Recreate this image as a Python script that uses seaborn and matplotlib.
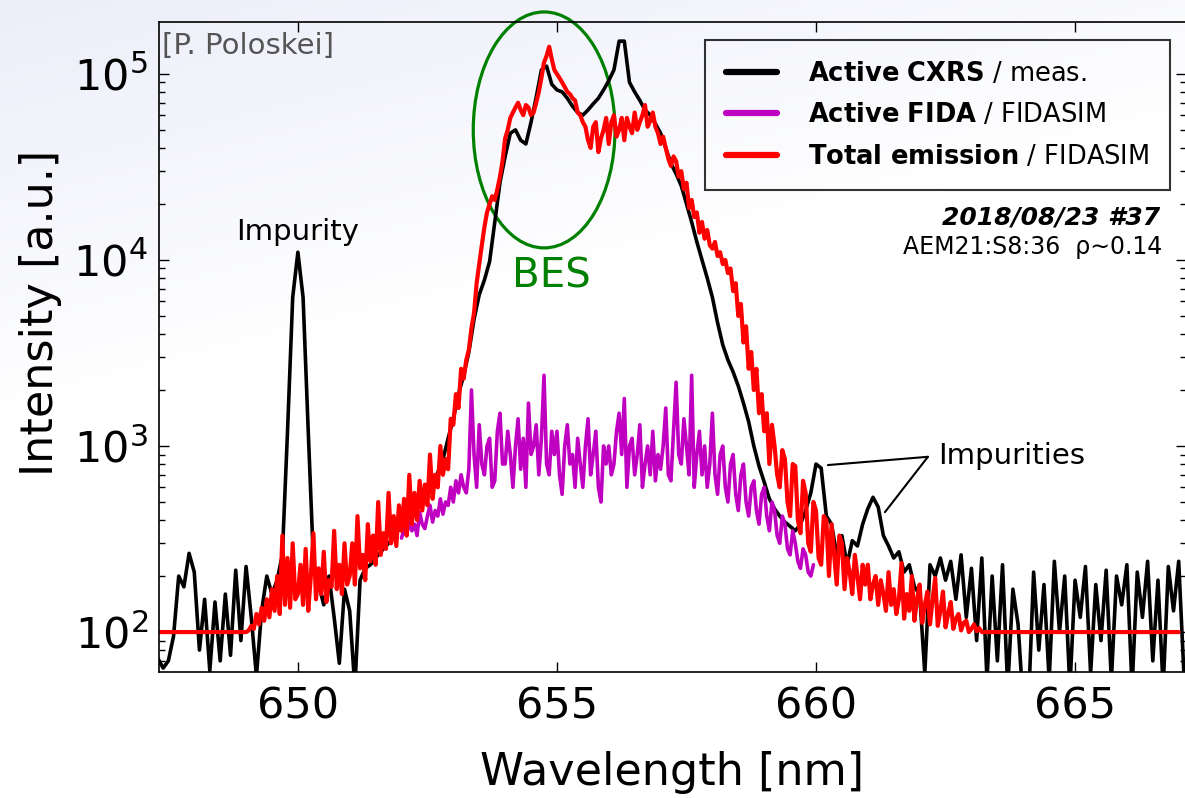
import numpy as np
import matplotlib
matplotlib.use("Agg")
import matplotlib.pyplot as plt
from matplotlib.patches import Ellipse
from matplotlib.lines import Line2D
import seaborn as sns

# spectra
# measured CXRS spectrum, one value every 0.1 nm
meas_start, meas_step = 647.3, 0.1
meas = [
    72, 64, 70, 95, 200, 175, 265,                                      # 647.3
    210, 80, 150, 62, 145, 70, 160, 75, 215, 90,                        # 648.0
    225, 120, 58, 130, 200, 160, 190, 260, 1200, 6300,                  # 649.0
    11000, 6300, 1200, 240, 180, 140, 200, 120, 68, 170,                # 650.0
    130, 50, 190, 220, 230, 250, 270, 290, 310, 340,                    # 651.0
    370, 400, 440, 480, 520, 570, 630, 720, 850, 1100,                  # 652.0
    1400, 1900, 2400, 3200, 4800, 6500, 7800, 9800, 16000, 26000,       # 653.0
    36000, 48000, 50000, 44000, 42000, 55000, 75000, 105000, 110000, 88000,   # 654.0
    82000, 80000, 74000, 67000, 62000, 60000, 64000, 69000, 74000, 82000,     # 655.0
    92000, 105000, 150000, 150000, 90000, 80000, 72000, 64000, 60000, 54000,  # 656.0
    48000, 40000, 33000, 29000, 25000, 20000, 16000, 12500, 10000, 8000,      # 657.0
    6300, 4600, 3500, 2900, 2500, 2100, 1700, 1350, 1000, 780,          # 658.0
    640, 520, 460, 420, 390, 370, 350, 380, 450, 560,                   # 659.0
    800, 760, 420, 380, 260, 330, 230, 310, 290, 380,                   # 660.0
    460, 530, 470, 330, 290, 250, 270, 210, 230, 175,                   # 661.0
    160, 60, 230, 200, 250, 190, 240, 150, 260, 120,                    # 662.0
    220, 90, 250, 55, 200, 70, 230, 50, 170, 110,                       # 663.0
    40, 40, 210, 80, 180, 55, 240, 100, 200, 50,                        # 664.0
    190, 120, 225, 60, 180, 90, 215, 55, 200, 140,                      # 665.0
    230, 50, 210, 120, 240, 70, 190, 50, 225, 130,                      # 666.0
    240, 60,                                                            # 667.0
]

# total emission (FIDASIM): flat floor outside 649.0-663.3 nm, 0.05 nm inside
total_floor = 100
total_edges = (647.3, 667.0)
total_start, total_step = 649.0, 0.05
total = [
    100, 102, 108, 104, 125, 110, 135, 115, 150, 120,
    170, 130, 200, 125, 330, 140, 250, 135, 300, 150,                   # 649.0
    160, 230, 140, 280, 130, 200, 340, 150, 220, 160,
    270, 145, 190, 175, 350, 170, 230, 160, 300, 180,                   # 650.0
    200, 300, 180, 420, 220, 260, 190, 380, 240, 330,
    230, 500, 260, 340, 280, 560, 300, 420, 290, 480,                   # 651.0
    350, 520, 330, 700, 380, 560, 400, 650, 450, 620,
    480, 900, 520, 700, 600, 1000, 700, 850, 750, 1400,                 # 652.0
    1300, 1900, 1600, 2600, 2300, 2900, 3300, 4300, 5200, 7500,
    9500, 12000, 15000, 18000, 20000, 22000, 21000, 24000, 28000, 34000,      # 653.0
    45000, 50000, 58000, 62000, 66000, 70000, 64000, 60000, 68000, 66000,
    60000, 62000, 70000, 80000, 95000, 115000, 125000, 140000, 120000, 105000,  # 654.0
    100000, 95000, 90000, 85000, 80000, 78000, 74000, 72000, 62000, 60000,
    55000, 52000, 44000, 40000, 52000, 55000, 38000, 45000, 50000, 58000,     # 655.0
    42000, 55000, 60000, 46000, 50000, 58000, 44000, 58000, 52000, 48000,
    62000, 50000, 55000, 60000, 68000, 52000, 56000, 62000, 52000, 48000,     # 656.0
    42000, 46000, 40000, 35000, 32000, 36000, 34000, 28000, 30000, 24000,
    26000, 19000, 21000, 17000, 18000, 14000, 16000, 13000, 14500, 12000,     # 657.0
    11500, 12500, 10500, 11000, 9500, 10000, 8500, 9000, 6800, 7500,
    5000, 5800, 3600, 4400, 2600, 3200, 2000, 2600, 1500, 1900,         # 658.0
    1200, 1500, 800, 1300, 1000, 700, 600, 950, 850, 500,
    420, 800, 780, 400, 340, 650, 560, 300, 270, 500,                   # 659.0
    450, 250, 230, 420, 400, 200, 380, 260, 180, 330,
    300, 170, 250, 210, 160, 260, 200, 150, 230, 180,                   # 660.0
    230, 150, 180, 200, 140, 190, 160, 130, 210, 140,
    170, 125, 150, 235, 118, 160, 130, 200, 115, 150,                   # 661.0
    180, 112, 140, 165, 110, 150, 195, 108, 130, 165,
    106, 125, 145, 104, 118, 125, 102, 112, 115, 100,                   # 662.0
    104, 110, 101, 105, 100, 100, 100,                                  # 663.0
]

# active FIDA (FIDASIM), one value every 0.05 nm
fida_start, fida_step = 652.0, 0.05
fida = [
    320, 360, 330, 400, 350, 380, 330, 440, 380, 360,
    420, 480, 390, 450, 420, 520, 430, 500, 480, 600,                   # 652.0
    500, 650, 560, 700, 600, 560, 750, 2000, 900, 600,
    1300, 800, 700, 1000, 1100, 600, 650, 1200, 1500, 800,              # 653.0
    800, 1200, 900, 600, 1000, 1400, 750, 1100, 600, 1700,
    900, 1000, 1300, 700, 1100, 2400, 800, 700, 1200, 900,              # 654.0
    1200, 700, 550, 1000, 1300, 800, 900, 600, 1100, 800,
    600, 1000, 1400, 700, 900, 1200, 600, 500, 1000, 800,               # 655.0
    1000, 700, 800, 1200, 1500, 900, 1800, 600, 1000, 1100,
    700, 900, 1300, 600, 800, 1000, 700, 1200, 650, 900,                # 656.0
    750, 1000, 1600, 700, 650, 1200, 2200, 900, 800, 1400,
    1000, 700, 2400, 600, 900, 1200, 700, 1000, 600, 800,               # 657.0
    1500, 700, 550, 900, 1000, 600, 500, 800, 900, 550,
    450, 700, 800, 500, 420, 600, 650, 450, 380, 550,                   # 658.0
    600, 420, 350, 500, 450, 330, 300, 420, 380, 280,
    260, 350, 300, 240, 220, 280, 260, 210, 200, 230,                   # 659.0
]

labels = [r'$\bf{Active\ CXRS}$ / meas.',
          r'$\bf{Active\ FIDA}$ / FIDASIM',
          r'$\bf{Total\ emission}$ / FIDASIM']
colors = ['black', '#c000c0', '#ff0000']


def grid(start, step, values):
    return np.round(start + step * np.arange(len(values)), 3)


wl_meas = grid(meas_start, meas_step, meas)
wl_fida = grid(fida_start, fida_step, fida)
wl_total = np.r_[total_edges[0], grid(total_start, total_step, total), total_edges[1]]
y_total = np.r_[total_floor, total, total_floor]

sns.set_theme(style="ticks")
plt.rcParams['font.family'] = ['DejaVu Sans']
plt.rcParams['mathtext.fontset'] = 'dejavusans'
plt.rcParams['text.color'] = 'black'
plt.rcParams['axes.labelcolor'] = 'black'
plt.rcParams['xtick.color'] = 'black'
plt.rcParams['ytick.color'] = 'black'

fig = plt.figure(figsize=(11.85, 7.98), dpi=100)

# faint slide background
bg = fig.add_axes([0, 0, 1, 1], zorder=-10)
H, W = 798, 1185
yy, xx = np.mgrid[0:H, 0:W]
w = np.clip(1 - (yy + 0.25 * xx) / 420.0, 0, 1)
base = np.array([0.925, 0.932, 0.975])
img = 1 - w[..., None] * (1 - base)
bg.imshow(img, extent=[0, 1, 0, 1], aspect='auto')
bg.axis('off')

ax = fig.add_axes([0.1342, 0.1579, 0.8666, 0.8145])
ax.patch.set_alpha(0)
ax.set_yscale('log')

sns.lineplot(x=wl_meas, y=meas, color=colors[0], lw=2.6,
             estimator=None, sort=False, ax=ax)
sns.lineplot(x=wl_fida, y=fida, color=colors[1], lw=2.6,
             estimator=None, sort=False, ax=ax)
sns.lineplot(x=wl_total, y=y_total, color=colors[2], lw=3.0,
             estimator=None, sort=False, ax=ax)

ax.set_xlim(647.32, 667.14)
ax.set_ylim(61, 1.9e5)
ax.set_xticks([650, 655, 660, 665])
ax.xaxis.set_minor_locator(matplotlib.ticker.NullLocator())
ax.tick_params(which='both', direction='in', top=True, right=True, width=1, colors='black')
ax.tick_params(which='major', length=7, labelsize=31)
ax.tick_params(axis='x', pad=10)
ax.tick_params(axis='y', pad=8)
ax.tick_params(which='minor', length=4)
for s in ax.spines.values():
    s.set_linewidth(1.2)
    s.set_color('black')

ax.set_xlabel('Wavelength [nm]', fontsize=32)
ax.xaxis.set_label_coords(0.5, -0.122)
ax.set_ylabel('Intensity [a.u.]', fontsize=32)
ax.yaxis.set_label_coords(-0.094, 0.552)

handles = [Line2D([], [], color=c, lw=4.5) for c in colors]
leg = ax.legend(handles, labels, loc='upper right', bbox_to_anchor=(0.984, 0.972),
                fontsize=18.5, frameon=True, fancybox=False, edgecolor='black',
                facecolor='none', handlelength=2.0, handletextpad=1.2,
                labelspacing=0.6, borderpad=0.8, borderaxespad=0)
leg.get_frame().set_linewidth(1.5)

ax.add_patch(Ellipse((0.375, 0.834), 0.138, 0.363, transform=ax.transAxes,
                     fill=False, edgecolor='green', lw=2.3, clip_on=False))
ax.text(654.9, 8110, 'BES', color='green', fontsize=29, ha='center', va='center')

ax.text(650.0, 14100, 'Impurity', fontsize=21, ha='center', va='center')
ax.text(662.36, 884, 'Impurities', fontsize=21, ha='left', va='center')
for xy in [(660.23, 790), (661.33, 441)]:
    ax.annotate('', xy=xy, xytext=(662.16, 875),
                arrowprops=dict(arrowstyle='-', color='black', lw=1.5,
                                shrinkA=0, shrinkB=0))

ax.text(0.003, 0.985, '[P. Poloskei]', transform=ax.transAxes, ha='left', va='top',
        fontsize=21, color='#555555')
ax.text(0.975, 0.70, '2018/08/23 #37', transform=ax.transAxes, ha='right', va='center',
        fontsize=18, fontweight='bold', fontstyle='italic')
ax.text(0.977, 0.654, 'AEM21:S8:36  ρ∼0.14', transform=ax.transAxes, ha='right',
        va='center', fontsize=17)

fig.savefig('out.png', dpi=100)
